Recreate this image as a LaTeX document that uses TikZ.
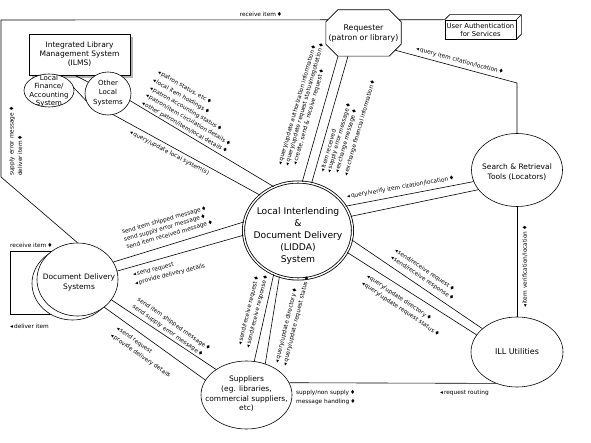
\documentclass[tikz,border=0pt]{standalone}
\usepackage{fontspec}
\setmainfont{DejaVu Sans}
\usetikzlibrary{shapes.geometric,shadows}
\newcommand{\lmk}{◂\,}
\newcommand{\rmk}{\,♦}
\begin{document}
\begin{tikzpicture}[x=1pt,y=-1pt,
  conn/.style={draw,line width=0.6pt},
  lab/.style={font=\fontsize{5.8}{6.5}\selectfont,inner sep=0pt},
  shp/.style={draw,ellipse,line width=0.6pt,fill=white,inner sep=0pt},
  ttl/.style={align=center,inner sep=0pt},
]
\fill[white] (0,0) rectangle (591,443);
\useasboundingbox (0,0) rectangle (591,443);

% self loop of document delivery (drawn first, hidden inside ellipses)
\coordinate (lp1) at (58,251);
\coordinate (lp2) at (10,251);
\coordinate (lp3) at (10,314);
\coordinate (lp4) at (55,314);
\draw[conn] (lp1) -- (lp2) -- (lp3) -- (lp4);

% ILMS group
\node[draw,line width=0.6pt,fill=white,minimum width=101pt,minimum height=41pt,inner sep=0pt,align=center,
  font=\fontsize{7.5}{9}\selectfont,
  drop shadow={shadow xshift=3pt,shadow yshift=-3pt,fill=gray!60,opacity=1}] (ilms) at (79.5,54.5)
  {Integrated Library\\Management System\\(ILMS)};
\node[shp,minimum width=50pt,minimum height=33pt] (lfa) at (49,90.5) {};
\node[ttl,font=\fontsize{7}{8.5}\selectfont] (lfat) at (49,91) {Local\\Finance/\\Accounting\\System};
\node[shp,minimum width=46pt,minimum height=43pt] (ols) at (108,93.5) {};
\node[ttl,font=\fontsize{7}{9.5}\selectfont] (olst) at (108,93) {Other\\Local\\Systems};

% Requester (octagon)
\node[minimum width=75pt,minimum height=46pt,inner sep=0pt,align=center,font=\fontsize{7.8}{10}\selectfont] (req) at (363.5,33)
  {Requester\\(patron or library)};
\draw[line width=0.6pt] ([xshift=12pt]req.north west) -- ([xshift=-12pt]req.north east) -- ([yshift=-12pt]req.north east)
  -- ([yshift=12pt]req.south east) -- ([xshift=-12pt]req.south east) -- ([xshift=12pt]req.south west)
  -- ([yshift=12pt]req.south west) -- ([yshift=-12pt]req.north west) -- cycle;

% User authentication (3D box)
\node[draw,line width=0.6pt,minimum width=71pt,minimum height=19pt,inner sep=0pt,align=center,font=\fontsize{6.8}{8}\selectfont] (auth) at (480.5,29.5)
  {User Authentication\\for Services};
\draw[line width=0.6pt] (auth.north west) -- ++(5,-5) -- ([shift={(5,-5)}]auth.north east) -- ([shift={(5,-5)}]auth.south east) -- (auth.south east)
  (auth.north east) -- ++(5,-5);

% LIDDA
\node[draw,ellipse,double,double distance=1.4pt,line width=0.8pt,minimum width=109pt,minimum height=97pt,inner sep=0pt] (lidda) at (298,230.5) {};
\node[ttl,font=\fontsize{9.2}{12}\selectfont] (liddat) at (298,235.5) {Local Interlending\\\&\\Document Delivery\\(LIDDA)\\System};

% Search & Retrieval
\node[shp,minimum width=91pt,minimum height=73pt] (search) at (517,170) {};
\node[ttl,font=\fontsize{7.5}{10}\selectfont] (searcht) at (517,172) {Search \& Retrieval\\Tools (Locators)};

% ILL Utilities
\node[shp,minimum width=92pt,minimum height=70pt] (ill) at (517,352) {};
\node[ttl,font=\fontsize{8}{10}\selectfont] (illt) at (517,352) {ILL Utilities};

% Suppliers
\node[shp,minimum width=91pt,minimum height=68pt] (sup) at (246.5,395) {};
\node[ttl,font=\fontsize{7.5}{9.7}\selectfont] (supt) at (246.5,394) {Suppliers\\(eg. libraries,\\commercial suppliers,\\etc)};

% Document Delivery Systems
\node[shp,minimum width=81pt,minimum height=73pt] (ddb) at (72.5,283.5) {};
\node[shp,minimum width=81pt,minimum height=73pt] (dd) at (77.5,279.5) {};
\node[ttl,font=\fontsize{7.5}{10}\selectfont] (ddt) at (79,282) {Document Delivery\\Systems};

% connectors
\coordinate (fa) at (1,20);
\coordinate (fb) at (1,177);
\coordinate (rsc) at (517,83);
\draw[conn] ([xshift=2pt,yshift=-10pt]req.north west) -- (fa) -- (fb) -- (dd.north);
\draw[conn] ([xshift=-2pt,yshift=-10pt]req.north east) -- (auth.north west);
\draw[conn] ([xshift=-6pt,yshift=6pt]req.south east) -- (rsc) -- (search.north);
\draw[conn] (search.south) -- (ill.north);
\draw[conn] (ilms.257) -- (ols.150);
\draw[conn] (lfa.6) -- (ols.198);
\draw[conn] (ols.342) -- (lidda.119);
\draw[conn] (ols.284) -- (lidda.137);
\draw[conn] ([xshift=-25.5pt]req.south) -- (lidda.85);
\draw[conn] ([xshift=-15.5pt]req.south) -- (lidda.74);
\draw[conn] (lidda.27) -- (search.195);
\draw[conn] (lidda.15) -- (search.207);
\draw[conn] (lidda.-10) -- (ill.146);
\draw[conn] (lidda.-24) -- (ill.157);
\draw[conn] (sup.16) -- (ill.236);
\draw[conn] (sup.77) -- (lidda.241);
\draw[conn] (sup.59) -- (lidda.248);
\draw[conn] (dd.26) -- (lidda.171);
\draw[conn] (dd.12) -- (lidda.185);
\draw[conn] (dd.-31) -- (sup.140);
\draw[conn] (dd.-46) -- (sup.160);

% labels: frame and loop
\node[lab] (fl1) at (261,14.5) {receive item\rmk};
\node[lab,rotate=90,anchor=west] (fl2) at (12,176) {supply error message\rmk};
\node[lab,rotate=90,anchor=west] (fl3) at (20,176) {deliver item\rmk};
\node[lab,anchor=west] (ll1) at (10,245) {receive item\rmk};
\node[lab,anchor=west] (ll2) at (10,326) {\lmk deliver item};

% labels: ILMS - LIDDA
\node[lab,rotate=-30,anchor=west] (lm1) at (158,72) {\lmk patron status, etc\rmk};
\node[lab,rotate=-30,anchor=west] (lm2) at (153,80) {\lmk local item holdings\rmk};
\node[lab,rotate=-30,anchor=west] (lm3) at (150,88) {\lmk patron accounting status\rmk};
\node[lab,rotate=-30,anchor=west] (lm4) at (146,95.5) {\lmk patron/item circulation details\rmk};
\node[lab,rotate=-30,anchor=west] (lm5) at (142,103) {\lmk other patron/item/local details\rmk};
\node[lab,rotate=-28,anchor=west] (lm6) at (130,132) {\lmk query/update local system(s)};

% labels: Requester - LIDDA
\node[lab,rotate=74,anchor=west] (rq1) at (280,165) {\lmk query/update authorization information\rmk};
\node[lab,rotate=74,anchor=west] (rq2) at (287,166) {\lmk query/update request status/negotiation\rmk};
\node[lab,rotate=74,anchor=west] (rq3) at (295,165) {\lmk create, send \& receive request\rmk};
\node[lab,rotate=74,anchor=west] (rq4) at (322,172) {\lmk item received};
\node[lab,rotate=74,anchor=west] (rq5) at (329,173) {\lmk supply error message\rmk};
\node[lab,rotate=74,anchor=west] (rq6) at (337,173) {\lmk exchange message\rmk};
\node[lab,rotate=74,anchor=west] (rq7) at (346,176) {\lmk exchange financial information\rmk};

% labels: Requester - Search, Search - LIDDA, Search - ILL
\node[lab,rotate=-15] (rs1) at (460,61) {\lmk query item citation/location\rmk};
\node[lab,rotate=10,anchor=west] (sr1) at (347,197) {\lmk query/verify item citation/location\rmk};
\node[lab,rotate=90,anchor=west] (vi1) at (525,308) {\lmk item verification/location\rmk};

% labels: ILL - LIDDA
\node[lab,rotate=-34,anchor=west] (il1) at (395,250) {\lmk send/receive request\rmk};
\node[lab,rotate=-34,anchor=west] (il2) at (391,257) {\lmk send/receive response\rmk};
\node[lab,rotate=-34,anchor=west] (il3) at (367,276) {\lmk query/update directory\rmk};
\node[lab,rotate=-34,anchor=west] (il4) at (362,283) {\lmk query/update request status\rmk};

% labels: Suppliers - LIDDA
\node[lab,rotate=76,anchor=west] (sp1) at (240,345) {\lmk send/receive request\rmk};
\node[lab,rotate=76,anchor=west] (sp2) at (248,348) {\lmk send/receive response\rmk};
\node[lab,rotate=76,anchor=west] (sp3) at (277,363) {\lmk query/update directory\rmk};
\node[lab,rotate=76,anchor=west] (sp4) at (285,366) {\lmk query/update request status\rmk};

% labels: Suppliers - ILL
\node[lab,anchor=west] (si1) at (296,393) {supply/non supply\rmk};
\node[lab,anchor=west] (si2) at (296,402) {message handling\rmk};
\node[lab,anchor=west] (si3) at (440,393) {\lmk request routing};

% labels: DD - LIDDA
\node[lab,rotate=16,anchor=west] (dl1) at (122,232.5) {send item shipped message\rmk};
\node[lab,rotate=16,anchor=west] (dl2) at (124,240) {send supply error message\rmk};
\node[lab,rotate=16,anchor=west] (dl3) at (126.5,247.5) {send item received message\rmk};
\node[lab,rotate=14,anchor=west] (dl4) at (133,275) {\lmk send request};
\node[lab,rotate=14,anchor=west] (dl5) at (135,283.5) {\lmk provide delivery details};

% labels: DD - Suppliers
\node[lab,rotate=-35,anchor=west] (ds1) at (138,299) {send item shipped message\rmk};
\node[lab,rotate=-35,anchor=west] (ds2) at (133,306.5) {send supply error message\rmk};
\node[lab,rotate=-35,anchor=west] (ds3) at (117,328) {\lmk send request};
\node[lab,rotate=-35,anchor=west] (ds4) at (111,335) {\lmk provide delivery details};
\end{tikzpicture}
\end{document}
